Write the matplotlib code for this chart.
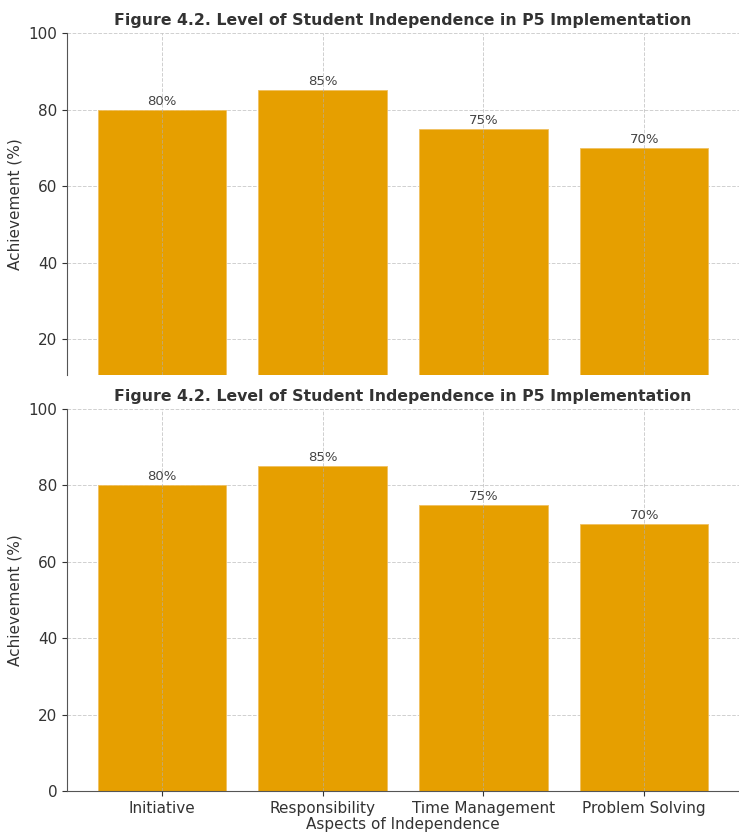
import matplotlib.pyplot as plt

aspects = ["Initiative", "Responsibility", "Time Management", "Problem Solving"]
achievement = [80, 85, 75, 70]
value_labels = ["80%", "85%", "75%", "70%"]

title = "Figure 4.2. Level of Student Independence in P5 Implementation"
bar_color = "#E69F00"
text_color = "#333333"

fig = plt.figure(figsize=(7.39, 8.32), dpi=100)

# top panel is a cropped copy of the same chart
ax1 = fig.add_axes([0.0907, 0.5493, 0.9093, 0.4110])
ax2 = fig.add_axes([0.0907, 0.0493, 0.9093, 0.4591])


def draw(ax, full):
    x = range(len(aspects))
    ax.bar(x, achievement, width=0.8, color=bar_color, edgecolor="#f0c060", linewidth=0.6)
    for i, (v, lab) in enumerate(zip(achievement, value_labels)):
        ax.text(i, v + 0.5, lab, ha="center", va="bottom", fontsize=9.5, color="#444444")
    ax.set_title(title, fontsize=11.3, fontweight="bold", color=text_color, pad=6)
    ax.set_ylabel("Achievement (%)", fontsize=11, color=text_color)
    ax.set_axisbelow(True)
    ax.yaxis.grid(True, linestyle="--", color="#d0d0d0", linewidth=0.7)
    ax.xaxis.grid(True, linestyle="--", color="#b0b0b0", linewidth=0.7, alpha=0.6)
    # vertical grid shows faintly over the bars
    ax.xaxis.set_zorder(2.5)
    ax.spines["top"].set_visible(False)
    ax.spines["right"].set_visible(False)
    ax.tick_params(colors=text_color, labelsize=11)
    ax.set_xlim(-0.59, 3.59)
    ax.set_xticks(list(x))
    if full:
        ax.set_ylim(0, 100)
        ax.set_xticklabels(aspects)
        ax.set_xlabel("Aspects of Independence", fontsize=11, color=text_color, labelpad=1)
    else:
        ax.set_ylim(10.6, 100)
        ax.set_yticks([20, 40, 60, 80, 100])
        ax.spines["bottom"].set_visible(False)
        ax.tick_params(axis="x", bottom=False, labelbottom=False)
    for s in ax.spines.values():
        s.set_color("#555555")


draw(ax1, False)
draw(ax2, True)

fig.savefig("out.png", dpi=100)
